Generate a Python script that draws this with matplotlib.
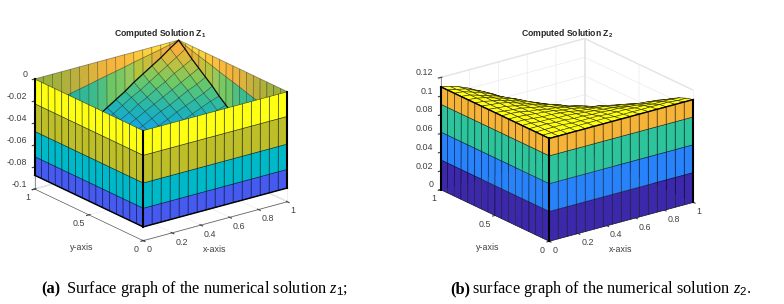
import numpy as np
import matplotlib
matplotlib.use('Agg')
import matplotlib.pyplot as plt
from matplotlib.colors import LinearSegmentedColormap, to_rgba

plt.rcParams['font.family'] = ['Liberation Sans', 'DejaVu Sans']
plt.rcParams['axes.unicode_minus'] = False
plt.rcParams['mathtext.fontset'] = 'custom'
plt.rcParams['mathtext.rm'] = 'Liberation Sans'
plt.rcParams['mathtext.bf'] = 'Liberation Sans:bold'
plt.rcParams['mathtext.it'] = 'Liberation Serif:italic'

# interior values of z1 (share of the deepest value, in %)
floor_z1 = [
    [100]*17,
    [100,100,99,99,98,98,98,97,97,96,96,96,95,95,95,94,94],
    [100,99,98,98,97,96,95,95,94,93,92,91,91,90,89,88,88],
    [100,99,98,96,95,94,93,92,91,89,88,87,86,85,84,82,81],
    [100,98,97,95,94,92,91,89,88,86,84,83,81,80,78,77,75],
    [100,98,96,94,92,90,88,86,84,82,80,79,77,75,73,71,69],
    [100,98,95,93,91,88,86,84,81,79,77,74,72,70,67,65,63],
    [100,97,95,92,89,86,84,81,78,75,73,70,67,64,62,59,56],
    [100,97,94,91,88,84,81,78,75,72,69,66,62,59,56,53,50],
    [100,96,93,89,86,82,79,75,72,68,65,61,58,54,51,47,44],
    [100,96,92,88,84,80,77,73,69,65,61,57,53,49,45,41,38],
    [100,96,91,87,83,79,74,70,66,61,57,53,48,44,40,36,31],
    [100,95,91,86,81,77,72,67,63,58,53,48,44,39,34,30,25],
    [100,95,90,85,80,75,70,64,59,54,49,44,39,34,29,24,19],
    [100,95,89,84,78,73,67,62,56,51,45,40,34,29,23,18,13],
    [100,94,88,82,77,71,65,59,53,47,41,36,30,24,18,12,6],
    [100,94,88,81,75,69,63,56,50,44,38,31,25,19,13,6,0],
]
# interior values of z2 (units of 1e-3)
floor_z2 = [
    [110]*17,
    [110,110,110,110,110,110,110,110,109,109,109,109,109,109,109,108,108],
    [110,110,110,110,109,109,109,109,108,108,108,107,107,106,106,106,105],
    [110,110,110,109,109,108,108,107,107,106,106,105,104,103,103,102,101],
    [110,110,109,109,108,108,107,106,105,104,103,102,101,100,99,98,96],
    [110,110,109,108,108,107,106,104,103,102,100,99,98,96,94,93,91],
    [110,110,109,108,107,106,104,103,101,99,98,96,94,92,89,87,85],
    [110,110,109,107,106,104,103,101,99,97,94,92,89,87,84,81,78],
    [110,109,108,107,105,103,101,99,96,94,91,88,85,82,78,75,71],
    [110,109,108,106,104,102,99,97,94,90,87,84,80,76,72,68,64],
    [110,109,108,106,103,101,98,94,91,87,83,79,75,70,66,61,56],
    [110,109,107,105,102,99,96,92,88,84,79,74,69,64,59,53,47],
    [110,109,107,104,101,98,94,89,85,80,75,69,64,58,52,45,39],
    [110,109,106,103,100,96,92,87,82,76,70,64,58,51,44,37,29],
    [110,109,106,103,99,94,89,84,78,72,66,59,52,44,36,28,20],
    [110,108,106,102,98,93,87,81,75,68,61,53,45,37,28,19,10],
    [110,108,105,101,96,91,85,78,71,64,56,47,39,29,20,10,0],
]

grid_xy = [0, 0.0005, 0.001, 0.0015, 0.002, 0.0625, 0.125, 0.1875, 0.25, 0.3125, 0.375, 0.4375,
           0.5, 0.5625, 0.625, 0.6875, 0.75, 0.8125, 0.875, 0.9375, 0.998, 0.999, 1]

# how far up the wall each row boundary sits, as a share of the interior value
wall_z1 = [0, 0.256, 0.544, 0.807, 1]
wall_z2 = [0, 0.29, 0.56, 0.83, 1]
back_rows = [1.0, 0.33, 0.0]

bands_z1 = ['#ffff14', '#bebe28', '#00b9c8', '#465af0']
bands_z2 = ['#3c28aa', '#2882fa', '#2dc39b', '#f5b437']

# back walls of z1, from the far corner towards the apex
back_upper = ['#96af3c', '#9cb03c', '#a4b03c', '#b0b03c', '#bcb03c', '#ccb03c', '#dcb43c', '#ecb43c',
              '#f5b43c', '#f8b83c', '#fac03c', '#fbc83c', '#fcd03c', '#fdd83c', '#fee03c', '#ffe83c']
back_lower = ['#14aad2', '#14aad2', '#1eaec4', '#1eafaa', '#28b4a0', '#32b896', '#3cbc8c', '#50c080',
              '#6ec664', '#78c864', '#96c85a', '#b4c43c', '#c8be3c', '#e0b43c', '#f0b03c', '#f5af3c']

floor_cmap = LinearSegmentedColormap.from_list(
    'floor', [(0, '#2a78f0'), (0.3, '#2a91ea'), (0.42, '#18a8da'), (0.52, '#1eb4b4'),
              (0.62, '#40c090'), (0.72, '#70ca64'), (0.85, '#c8c03c'), (0.94, '#f5af3c'), (1, '#f5af3c')])

xticks = [0, 0.2, 0.4, 0.6, 0.8, 1]
yticks = [0, 0.5, 1]
zticks_z1 = [-0.1, -0.08, -0.06, -0.04, -0.02, 0]
zticks_z2 = [0, 0.02, 0.04, 0.06, 0.08, 0.1, 0.12]


def draw_panel(rect, floor, wall, bands, zlim, zticks, zaspect, zoom, unit, vmin, vmax, top_yellow):
    ax = plt.gcf().add_axes(rect, projection='3d', computed_zorder=False, proj_type='ortho')
    ax.view_init(elev=21, azim=-127)
    ax.set_box_aspect((1, 1, zaspect), zoom=zoom)
    ax.set_xlim(0, 1, view_margin=0)
    ax.set_ylim(0, 1, view_margin=0)
    ax.set_zlim(zlim[0], zlim[1], view_margin=0)

    # weights across the thin boundary layers
    w = np.array(list(wall) + [1.0] * 15 + back_rows)
    inner = np.array(floor, dtype=float)
    n = len(grid_xy)
    full = np.zeros((n, n))
    full[4:21, 4:21] = inner
    full[:4, 4:21] = inner[0, :]
    full[4:21, :4] = inner[:, [0]]
    full[:4, :4] = inner[0, 0]
    full[21:, :] = full[20, :]
    full[:, 21:] = full[:, [20]]
    Z = full * unit * np.outer(w, w)
    X, Y = np.meshgrid(grid_xy, grid_xy, indexing='ij')

    mean = (Z[4:21, 4:21][:-1, :-1] + Z[4:21, 4:21][1:, 1:]) / 2
    fc = np.zeros((n - 1, n - 1, 4))
    fc[:] = to_rgba('#3c28aa')
    fc[4:20, 4:20] = floor_cmap((mean - vmin) / (vmax - vmin))
    if top_yellow:
        fc[4:20, 4:20] = to_rgba('#ffff14')
    else:
        for k in range(16):
            fc[4 + k, 20] = to_rgba(back_lower[k])
            fc[20, 4 + k] = to_rgba(back_lower[k])
            fc[4 + k, 21] = to_rgba(back_upper[k])
            fc[21, 4 + k] = to_rgba(back_upper[k])
    for k in range(4):
        fc[k, :] = to_rgba(bands[k])
        fc[:, k] = to_rgba(bands[k])

    edge = (0, 0, 0, 0.6)
    inner_edge = (0, 0, 0, 0.6) if top_yellow else (0, 0, 0, 0.42)
    ax.plot_surface(X[4:, 4:], Y[4:, 4:], Z[4:, 4:], facecolors=fc[4:, 4:], rstride=1, cstride=1,
                    shade=False, edgecolor=inner_edge, linewidth=0.45, zorder=2)
    # ridge lines of the inside part, where the back layers bunch
    if not top_yellow:
        ax.plot(X[4:21, 20], Y[4:21, 20], Z[4:21, 20], color='black', lw=0.9, zorder=2.5, alpha=0.85)
        ax.plot(X[20, 4:21], Y[20, 4:21], Z[20, 4:21], color='black', lw=0.9, zorder=2.5, alpha=0.85)
    ax.plot_surface(X[:5, 4:], Y[:5, 4:], Z[:5, 4:], facecolors=fc[:4, 4:], rstride=1, cstride=1,
                    shade=False, edgecolor=edge, linewidth=0.45, zorder=3)
    ax.plot_surface(X[4:, :5], Y[4:, :5], Z[4:, :5], facecolors=fc[4:, :4], rstride=1, cstride=1,
                    shade=False, edgecolor=edge, linewidth=0.45, zorder=3)

    # corner and edge lines where the mesh lines bunch together
    low = Z[4, 4]
    top = Z[0, 0] if not top_yellow else low
    bottom = low if not top_yellow else 0
    ax.plot([0, 0], [0, 0], [bottom, top], color='black', lw=1.5, zorder=5)
    ax.plot([0, 0], [1, 1], [bottom, top], color='black', lw=1.5, zorder=5)
    ax.plot([1, 1], [0, 0], [bottom, top], color='black', lw=1.5, zorder=5)
    line_z = low * np.ones(n)
    ax.plot(X[:, 0], Y[:, 0], line_z, color='black', lw=1.0, zorder=5)
    ax.plot(X[0, :], Y[0, :], line_z, color='black', lw=1.0, zorder=5)

    ax.set_xticks(xticks)
    ax.set_xticklabels([f'{v:g}' for v in xticks], ha='left')
    ax.set_yticks(yticks)
    ax.set_yticklabels([f'{v:g}' for v in yticks], ha='right')
    ax.set_zticks(zticks)
    ax.set_zticklabels([f'{v:g}' for v in zticks], ha='right', va='bottom')
    ax.tick_params(labelsize=6.4, colors='#404040', pad=-5, length=2, width=0.4)
    for axis in (ax.xaxis, ax.yaxis, ax.zaxis):
        axis.set_pane_color((1, 1, 1, 1))
        axis.pane.set_edgecolor('#e4e4e4')
        axis.line.set_color('#404040')
        axis.line.set_linewidth(0.4)
        axis._axinfo['grid'].update(color='#e6e6e6', linewidth=0.4)
    return ax


fig = plt.figure(figsize=(7.84, 3.04), dpi=100)
a1 = draw_panel([-0.0094, 0.076, 0.42, 0.9], floor_z1, wall_z1, bands_z1, (-0.1, 0), zticks_z1,
                0.653, 0.9973, -0.875e-3, -0.0875, 0, False)
a2 = draw_panel([0.5085, 0.0776, 0.42, 0.9], floor_z2, wall_z2, bands_z2, (0, 0.12), zticks_z2,
                0.666, 1.0005, 1e-3, 0, 0.12, True)

fig.text(160 / 784, 1 - 33 / 304, r'Computed Solution Z$_{\mathbf{1}}$', fontsize=6.2, fontweight='bold',
         color='#262626', ha='center', va='center')
fig.text(567 / 784, 1 - 33 / 304, r'Computed Solution Z$_{\mathbf{2}}$', fontsize=6.2, fontweight='bold',
         color='#262626', ha='center', va='center')

lab = {'fontsize': 6.4, 'color': '#404040', 'ha': 'center', 'va': 'center'}
fig.text(82 / 784, 1 - 247 / 304, 'y-axis', **lab)
fig.text(215 / 784, 1 - 250 / 304, 'x-axis', **lab)
fig.text(488 / 784, 1 - 247 / 304, 'y-axis', **lab)
fig.text(621 / 784, 1 - 250 / 304, 'x-axis', **lab)

cap = {'family': ['Liberation Serif'], 'fontsize': 11.8, 'va': 'center', 'color': 'black'}
fig.text(41 / 784, 1 - 289 / 304, '(a)', fontweight='bold', **cap)
fig.text(66 / 784, 1 - 289 / 304, r'Surface graph of the numerical solution $z_1$;', **cap)
fig.text(450 / 784, 1 - 289 / 304, '(b)', fontweight='bold', **cap)
fig.text(472 / 784, 1 - 289 / 304, r'surface graph of the numerical solution $z_2$.', **cap)

fig.savefig('out.png', dpi=100)
